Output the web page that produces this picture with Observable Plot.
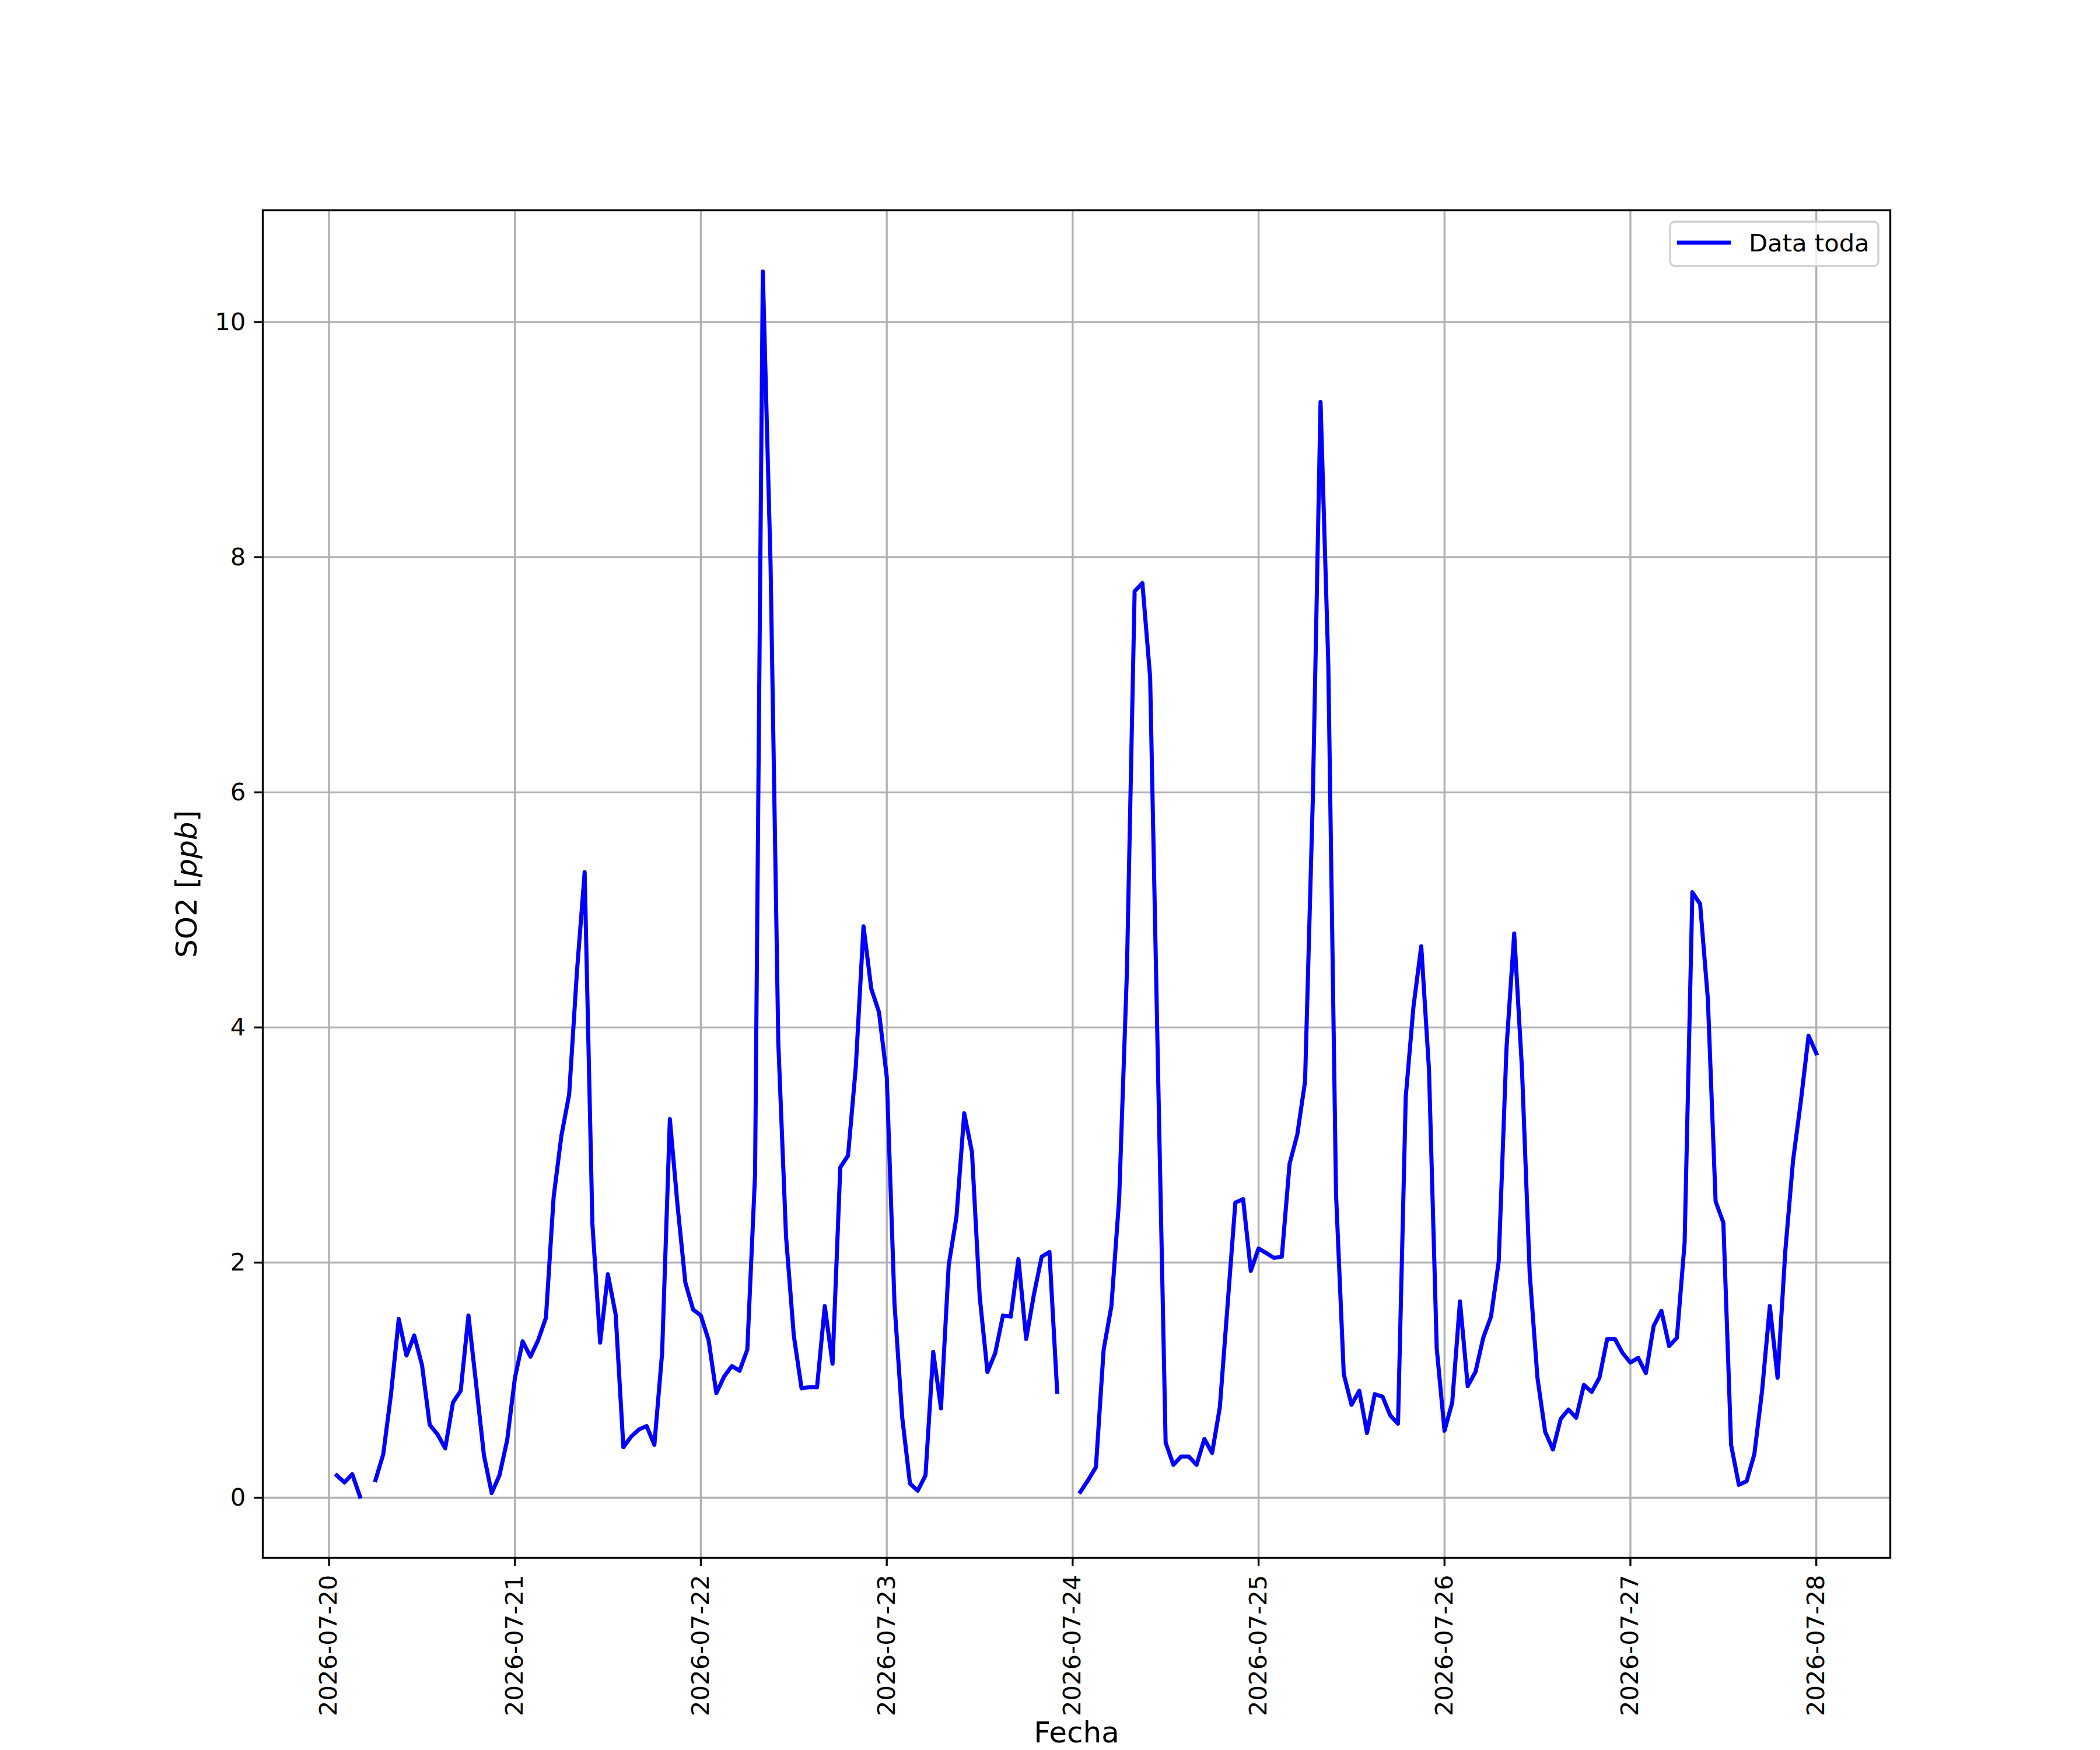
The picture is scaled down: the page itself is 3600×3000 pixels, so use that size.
<!DOCTYPE html>
<html>
<head>
<meta charset="utf-8">
<script src="https://cdn.jsdelivr.net/npm/d3@7"></script>
<script src="https://cdn.jsdelivr.net/npm/@observablehq/plot@0.6"></script>
<style>
  html, body { margin: 0; padding: 0; background: #fff; overflow: hidden; }
  svg { display: block; }
</style>
</head>
<body>
<div id="chart"></div>
<script>
// Hourly SO2 values (ppb), one array per day, hours 00..23 (NaN = missing)
const day20 = [NaN, 0.19, 0.13, 0.20, 0.01, NaN, 0.15, 0.37, 0.88, 1.52, 1.21, 1.38, 1.13, 0.62, 0.54, 0.42, 0.81, 0.91, 1.55, 0.96, 0.36, 0.04, 0.19, 0.49];
const day21 = [1.02, 1.33, 1.20, 1.34, 1.53, 2.56, 3.08, 3.43, 4.47, 5.32, 2.33, 1.32, 1.90, 1.56, 0.43, 0.52, 0.58, 0.61, 0.45, 1.23, 3.22, 2.48, 1.83, 1.60];
const day22 = [1.55, 1.34, 0.89, 1.03, 1.12, 1.08, 1.26, 2.75, 10.43, 7.94, 3.87, 2.22, 1.38, 0.93, 0.94, 0.94, 1.63, 1.14, 2.81, 2.91, 3.66, 4.86, 4.33, 4.13];
const day23 = [3.58, 1.65, 0.68, 0.12, 0.06, 0.19, 1.24, 0.76, 1.98, 2.39, 3.27, 2.94, 1.71, 1.07, 1.23, 1.55, 1.54, 2.03, 1.35, 1.73, 2.05, 2.09, 0.90, NaN];
const day24 = [NaN, 0.05, 0.15, 0.26, 1.26, 1.63, 2.54, 4.47, 7.71, 7.78, 6.98, 3.70, 0.47, 0.28, 0.35, 0.35, 0.28, 0.50, 0.38, 0.77, 1.64, 2.51, 2.54, 1.93];
const day25 = [2.12, 2.08, 2.04, 2.05, 2.84, 3.09, 3.54, 5.94, 9.32, 7.09, 2.58, 1.05, 0.79, 0.91, 0.55, 0.88, 0.86, 0.70, 0.63, 3.41, 4.18, 4.69, 3.64, 1.27];
const day26 = [0.57, 0.81, 1.67, 0.95, 1.07, 1.36, 1.54, 2.01, 3.82, 4.80, 3.65, 1.91, 1.02, 0.56, 0.41, 0.67, 0.75, 0.68, 0.96, 0.90, 1.02, 1.35, 1.35, 1.23];
const day27 = [1.15, 1.19, 1.06, 1.46, 1.59, 1.29, 1.36, 2.17, 5.15, 5.05, 4.24, 2.52, 2.34, 0.45, 0.11, 0.14, 0.37, 0.91, 1.63, 1.02, 2.10, 2.87, 3.37, 3.93];
const day28 = [3.78];

const dayTicks = ["2026-07-20", "2026-07-21", "2026-07-22", "2026-07-23", "2026-07-24", "2026-07-25", "2026-07-26", "2026-07-27", "2026-07-28"];
const yTicks = [0, 2, 4, 6, 8, 10];
const seriesName = "Data toda";
const xLabel = "Fecha";
const yLabelMain = "SO2 [";
const yLabelUnit = "ppb";
const yLabelEnd = "]";

// ---- build table ----
const hourly = [].concat(day20, day21, day22, day23, day24, day25, day26, day27, day28);
const t0 = Date.parse(dayTicks[0] + "T00:00:00Z");
const HOUR = 3600e3;
const data = hourly.map((v, i) => ({date: new Date(t0 + i * HOUR), so2: v}));
const dayDates = dayTicks.map(s => new Date(s + "T00:00:00Z"));

// matplotlib-like 5% autoscale margins
const valid = data.filter(d => Number.isFinite(d.so2));
const [xa, xb] = d3.extent(valid, d => +d.date);
const [ya, yb] = d3.extent(valid, d => d.so2);
const xPad = (xb - xa) * 0.05, yPad = (yb - ya) * 0.05;

const FONT = "DejaVu Sans, Liberation Sans, sans-serif";
const LW = 7;
const THIN = 3.33;

const svg = Plot.plot({
  width: 3600,
  height: 3000,
  marginLeft: 450,
  marginRight: 360,
  marginTop: 360,
  marginBottom: 330,
  style: {fontFamily: FONT, fontSize: "41.7px", background: "white", color: "black", overflow: "visible"},
  x: {type: "utc", domain: [new Date(xa - xPad), new Date(xb + xPad)]},
  y: {domain: [ya - yPad, yb + yPad]},
  marks: [
    Plot.gridX(dayDates, {stroke: "#b0b0b0", strokeOpacity: 1, strokeWidth: THIN}),
    Plot.gridY(yTicks, {stroke: "#b0b0b0", strokeOpacity: 1, strokeWidth: THIN}),
    Plot.line(data, {x: "date", y: "so2", stroke: "#0000ff", strokeWidth: LW, strokeLinejoin: "round", strokeLinecap: "square"}),
    Plot.frame({stroke: "black", strokeWidth: THIN}),
    Plot.axisX(dayDates, {tickFormat: d3.utcFormat("%Y-%m-%d"), tickRotate: -90, tickSize: 14.6, tickPadding: 14.6, fontSize: 41.7, strokeWidth: THIN, label: null}),
    Plot.axisY(yTicks, {tickFormat: d => String(d), tickSize: 14.6, tickPadding: 14.6, fontSize: 41.7, strokeWidth: THIN, label: null}),
    Plot.text([yLabelMain + yLabelUnit + yLabelEnd], {text: d => d, frameAnchor: "left", dx: -130, rotate: -90, fontSize: 50, lineAnchor: "middle", textAnchor: "middle"}),
    Plot.text([xLabel], {text: d => d, frameAnchor: "bottom", dy: 300, fontSize: 50, lineAnchor: "middle"})
  ]
});

// italic unit in y label (mathtext style)
d3.select(svg).selectAll("text")
  .filter(function() { return this.textContent === yLabelMain + yLabelUnit + yLabelEnd; })
  .each(function() {
    const t = d3.select(this);
    t.text(null);
    t.append("tspan").text(yLabelMain);
    t.append("tspan").attr("font-style", "italic").text(yLabelUnit);
    t.append("tspan").text(yLabelEnd);
  });

// legend (upper right inside the axes)
const lg = d3.select(svg).append("g").attr("font-family", FONT).attr("text-anchor", "start");
lg.append("rect")
  .attr("x", 2863).attr("y", 380).attr("width", 357).attr("height", 76)
  .attr("rx", 8).attr("ry", 8)
  .attr("fill", "white").attr("fill-opacity", 0.8)
  .attr("stroke", "#d0d0d0").attr("stroke-width", THIN);
lg.append("line")
  .attr("x1", 2875).attr("x2", 2967).attr("y1", 416).attr("y2", 416)
  .attr("stroke", "#0000ff").attr("stroke-width", LW).attr("stroke-linecap", "butt");
lg.append("text")
  .attr("x", 2998).attr("y", 431)
  .attr("font-size", 41.7).attr("fill", "black").attr("text-anchor", "start")
  .text(seriesName);

document.getElementById("chart").appendChild(svg);
</script>
</body>
</html>
